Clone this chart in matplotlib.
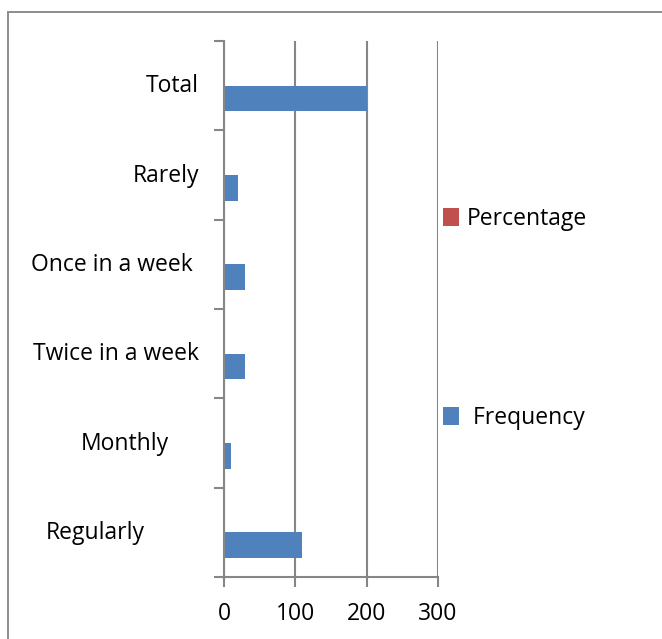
import matplotlib
matplotlib.use("Agg")
import matplotlib.pyplot as plt
import matplotlib.transforms as mtransforms
from matplotlib.patches import Patch, Rectangle
import numpy as np

# Survey responses: how often respondents visit
categories = ["Regularly", "Monthly", "Twice in a week", "Once in a week", "Rarely", "Total"]
frequency = [110, 10, 30, 30, 20, 200]
percentage = [0.55, 0.05, 0.15, 0.15, 0.10, 1.00]
x_ticks = [0, 100, 200, 300]
# extra leftward shift (pixels) of a few category labels
label_shift_px = [54, 30, 0, 6, 0, 0]

BLUE = "#4F81BD"
RED = "#C0504D"
GRAY = "#868686"
FONT = "Open Sans"
FS = 16.5
LW = 1.5

plt.rcParams["font.family"] = [FONT, "DejaVu Sans"]

W, H = 662, 639
DPI = 100
fig = plt.figure(figsize=(W / DPI, H / DPI), dpi=DPI)

# outer chart frame (only its left and top edges fall inside the image)
fig.patches.append(Rectangle((8 / W, -0.05), 1.2, (H - 12) / H + 0.05,
                             transform=fig.transFigure, fill=False,
                             edgecolor="#8C8C8C", linewidth=1.4))

left, right, top, bottom = 224, 438, 41, 577
ax = fig.add_axes([left / W, (H - bottom) / H, (right - left) / W, (bottom - top) / H])

y = np.arange(len(categories))
h = 1 / 3.5
ax.barh(y - h / 2, frequency, height=h, color=BLUE, label=" Frequency", zorder=3)
ax.barh(y + h / 2, percentage, height=h, color=RED, label="Percentage", zorder=3)

ax.set_xlim(0, 300)
ax.set_ylim(-0.5, len(categories) - 0.5)
ax.set_xticks(x_ticks)
ax.set_xticklabels([str(v) for v in x_ticks], fontsize=FS)

ax.set_yticks(y)
ax.set_yticklabels(categories, fontsize=FS)
ax.set_yticks(np.arange(len(categories) + 1) - 0.5, minor=True)
ax.tick_params(axis="y", which="major", length=0, pad=18)
ax.tick_params(axis="y", which="minor", length=7, width=LW, color=GRAY, direction="out")
ax.tick_params(axis="x", which="major", length=7, width=LW, color=GRAY, direction="out", pad=11)

for lbl, shift in zip(ax.get_yticklabels(), label_shift_px):
    lbl.set_transform(lbl.get_transform() +
                      mtransforms.ScaledTranslation(-shift / DPI, 2.5 / DPI, fig.dpi_scale_trans))

ax.grid(axis="x", color=GRAY, linewidth=LW, zorder=0)
ax.grid(axis="y", visible=False)
for s in ["top", "right"]:
    ax.spines[s].set_visible(False)
for s in ["left", "bottom"]:
    ax.spines[s].set_color(GRAY)
    ax.spines[s].set_linewidth(LW)
    ax.spines[s].set_zorder(4)

# legend entries on the right
def legend_entry(label, color, ypix):
    lg = fig.legend(handles=[Patch(facecolor=color, edgecolor="none")], labels=[label],
                    loc="center left", bbox_to_anchor=(443 / W, 1 - ypix / H),
                    frameon=False, fontsize=FS, handlelength=0.7, handleheight=0.78,
                    handletextpad=0.33, borderpad=0, borderaxespad=0)
    return lg

legend_entry("Percentage", RED, 219)
legend_entry(" Frequency", BLUE, 418)

fig.savefig("out.png", dpi=DPI)
